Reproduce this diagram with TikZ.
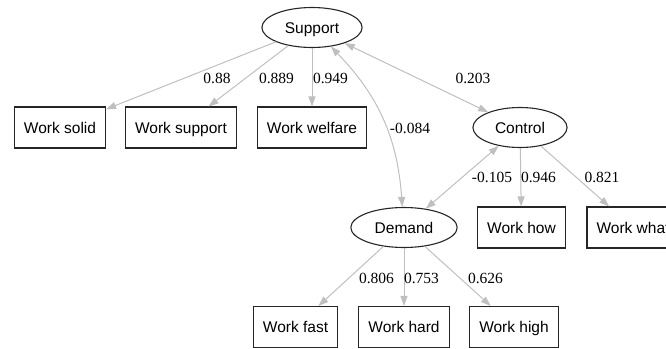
\documentclass[tikz,border=0pt]{standalone}
\usepackage{fontspec}
\setmainfont{Liberation Sans}
\newfontfamily\coeffont{Liberation Serif}
\usetikzlibrary{shapes.geometric,arrows.meta}

\begin{document}
\begin{tikzpicture}[x=1pt, y=-1pt,
	every node/.style={font=\fontsize{15.5}{18}\selectfont},
	latent/.style={draw=black!85, line width=1.1pt, ellipse, inner xsep=8.3pt, minimum height=40pt, text height=11pt, text depth=0pt},
	observed/.style={draw=black!85, line width=1.1pt, rectangle, inner xsep=9.5pt, minimum height=41pt, text height=11pt, text depth=0pt},
	load/.style={draw=gray!50, line width=1pt, -{Triangle[length=10pt,width=7pt]}},
	covar/.style={load, {Triangle[length=10pt,width=7pt]}-{Triangle[length=10pt,width=7pt]}},
	coef/.style={font=\coeffont\fontsize{15.5}{18}\selectfont}]
	\useasboundingbox (0,0) rectangle (666,348);
	\clip (0,0) rectangle (666,348);
	% latent factors
	\node[latent] (support) at (312,27.5) {Support};
	\node[latent] (control) at (520,127.5) {Control};
	\node[latent] (demand) at (404,227.5) {Demand};
	% observed items
	\foreach \n/\x/\y/\t in {solid/60/127.5/Work solid, wsupport/181/127.5/Work support, welfare/312/127.5/Work welfare,
		how/521.5/227.5/Work how, what/633/227.5/Work what,
		fast/295.5/327/Work fast, hard/404/327/Work hard, high/514/327/Work high} {
		\node[observed] (\n) at (\x,\y) {\t};
	}
	% loadings
	\foreach \a/\b in {support/solid, support/wsupport, support/welfare, control/how, control/what, demand/fast, demand/hard, demand/high} {
		\draw[load] (\a) -- (\b);
	}
	% covariances
	\draw[covar] (support) -- (control);
	\draw[covar] (control) -- (demand);
	\draw[covar] (support) to[bend left=20] (demand);
	% estimates
	\foreach \n/\x/\y/\v in {cSolid/217/78/0.88, cSupport/276.5/78/0.889, cWelfare/330.5/78/0.949, cSC/473/78/0.203,
		cSD/410/128/-0.084, cCD/492/177/-0.105, cHow/538.5/177/0.946, cWhat/602/177/0.821,
		cFast/376.5/278/0.806, cHard/421.5/278/0.753, cHigh/485.5/278/0.626} {
		\node[coef] (\n) at (\x,\y) {\v};
	}
\end{tikzpicture}
\end{document}
